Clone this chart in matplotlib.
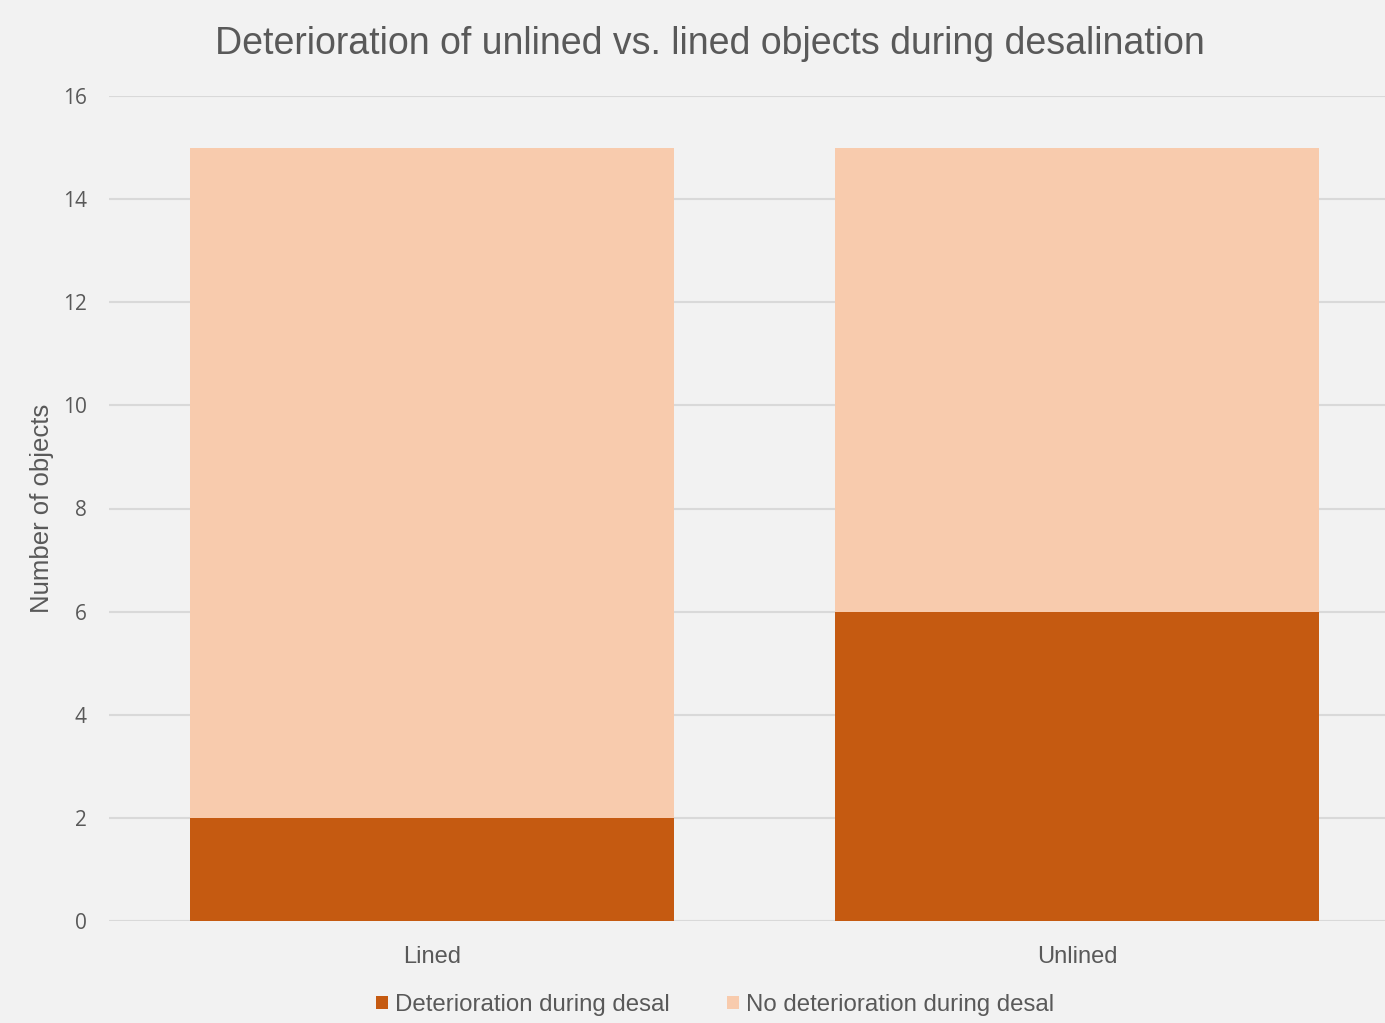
import matplotlib.pyplot as plt
from matplotlib.patches import Patch

# data
groups = ['Lined', 'Unlined']
deteriorated = [2, 6]
not_deteriorated = [13, 9]
series_names = ['Deterioration during desal', 'No deterioration during desal']
yticks = [0, 2, 4, 6, 8, 10, 12, 14, 16]

dark = '#C55A11'
light = '#F8CBAD'
bg = '#F2F2F2'
txt = '#595959'

fig = plt.figure(figsize=(13.85, 10.23), dpi=100, facecolor=bg)
ax = fig.add_axes([109 / 1385, 1 - 921 / 1023, (1400 - 109) / 1385, (921 - 96) / 1023])
ax.set_facecolor(bg)

x = list(range(len(groups)))
ax.bar(x, deteriorated, width=0.75, color=dark, zorder=3)
ax.bar(x, not_deteriorated, width=0.75, bottom=deteriorated, color=light, zorder=3)

ax.set_xlim(-0.5, 1.5)
ax.set_ylim(0, 16)
ax.set_yticks(yticks)
ax.set_yticklabels([str(t) for t in yticks], fontsize=15, color=txt, family='Open Sans')
ax.set_xticks(x)
ax.set_xticklabels(groups, fontsize=17, color=txt, family='Liberation Sans')
ax.tick_params(axis='both', length=0)
ax.tick_params(axis='y', pad=16)
ax.tick_params(axis='x', pad=18)
ax.grid(axis='y', color='#D9D9D9', linewidth=1.5, zorder=0)
ax.set_axisbelow(True)
for s in ax.spines.values():
    s.set_visible(False)

ax.set_ylabel('Number of objects', fontsize=18.5, color=txt, family='Liberation Sans', labelpad=6)

fig.text(710 / 1385, 1 - 44 / 1023, 'Deterioration of unlined vs. lined objects during desalination',
         ha='center', va='center', fontsize=27, color=txt, family='Liberation Sans')

handles = [Patch(facecolor=dark), Patch(facecolor=light)]
fig.legend(handles, series_names, loc='center', bbox_to_anchor=(715 / 1385, 1 - 1005 / 1023),
           ncol=2, frameon=False, labelcolor=txt, prop={'family': 'Liberation Sans', 'size': 17.3},
           handlelength=0.5, handleheight=0.5, handletextpad=0.3, columnspacing=2.4)

fig.savefig('out.png', dpi=100, facecolor=bg)
